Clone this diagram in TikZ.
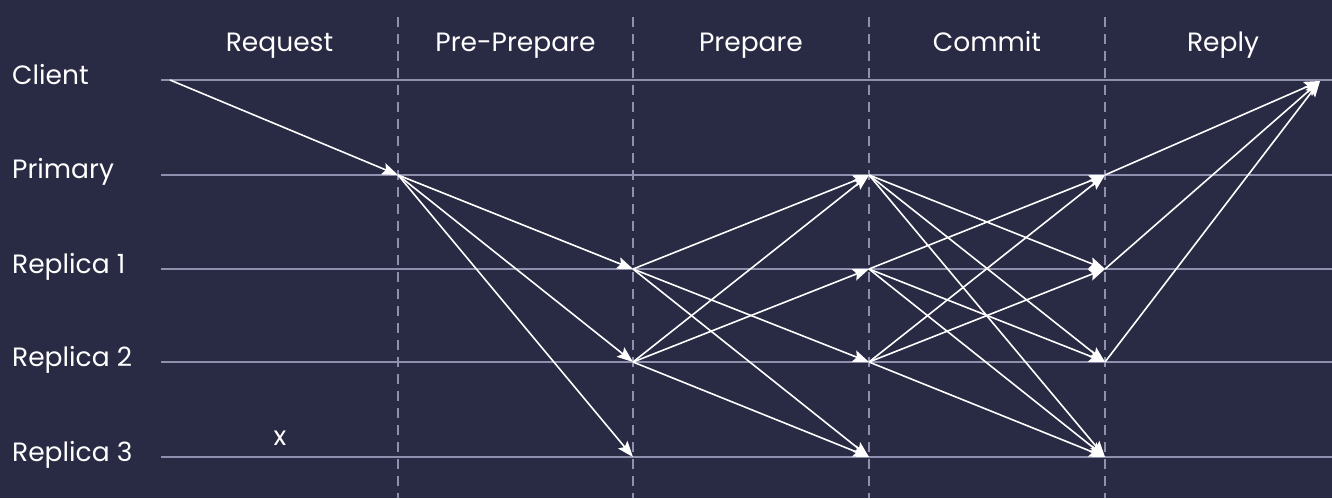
\documentclass[tikz,border=0pt]{standalone}
\usepackage{fontspec}
\setmainfont{Poppins}
\usetikzlibrary{arrows.meta}
\definecolor{bgc}{HTML}{292A43}
\definecolor{linec}{HTML}{8E90AD}
\begin{document}
\begin{tikzpicture}[x=1pt,y=-1pt,
  lane/.style={draw=linec,line width=1.5pt},
  divider/.style={draw=linec,line width=1.4pt,dash pattern=on 10pt off 7pt},
  msg/.style={draw=white,line width=1.6pt,-{Stealth[length=16pt,width=12pt,inset=3pt]}},
  rowlabel/.style={text=white,anchor=base west,inner sep=0pt,font=\fontsize{26.5}{30}\selectfont},
  phaselabel/.style={text=white,anchor=base,inner sep=0pt,font=\fontsize{26.5}{30}\selectfont}]
\fill[bgc] (0,0) rectangle (1332,498);
\useasboundingbox (0,0) rectangle (1332,498);
% lanes
\foreach \n/\y in {C/80,P/175,A/269,B/362,D/457}{
  \coordinate (\n0) at (161,\y);
  \coordinate (\n1) at (398,\y);
  \coordinate (\n2) at (633,\y);
  \coordinate (\n3) at (869,\y);
  \coordinate (\n4) at (1105,\y);
  \coordinate (\n5) at (1332,\y);
  \draw[lane] (\n0) -- (\n5);
}
\coordinate (cs) at (170,80);
\coordinate (ce) at (1320,81);
% dividers
\foreach \i/\x in {1/398,2/633,3/869,4/1105}{
  \coordinate (t\i) at (\x,17);
  \coordinate (b\i) at (\x,498);
  \draw[divider] (t\i) -- (b\i);
}
% labels
\node[rowlabel] (lc) at (12,84) {Client};
\node[rowlabel] (lp) at (12,178) {Primary};
\node[rowlabel] (la) at (12,273) {Replica 1};
\node[rowlabel] (lb) at (12,366) {Replica 2};
\node[rowlabel] (ld) at (12,461) {Replica 3};
\node[phaselabel] (h1) at (279.5,51) {Request};
\node[phaselabel] (h2) at (515.5,51) {Pre-Prepare};
\node[phaselabel] (h3) at (751,51) {Prepare};
\node[phaselabel] (h4) at (987,51) {Commit};
\node[phaselabel] (h5) at (1223,51) {Reply};
\node[phaselabel] (xx) at (280,445) {x};
% request
\draw[msg] (cs) -- (P1);
% pre-prepare
\foreach \t in {A,B,D}{\draw[msg] (P1) -- (\t2);}
% prepare
\foreach \t in {P,B,D}{\draw[msg] (A2) -- (\t3);}
\foreach \t in {P,A,D}{\draw[msg] (B2) -- (\t3);}
% commit
\foreach \t in {A,B,D}{\draw[msg] (P3) -- (\t4);}
\foreach \t in {P,B,D}{\draw[msg] (A3) -- (\t4);}
\foreach \t in {P,A,D}{\draw[msg] (B3) -- (\t4);}
% reply
\foreach \s in {P,A,B}{\draw[msg] (\s4) -- (ce);}
\end{tikzpicture}
\end{document}
